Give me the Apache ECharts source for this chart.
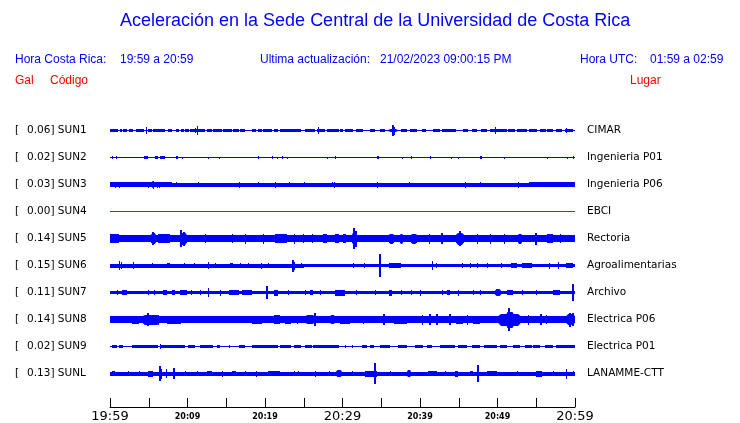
<!DOCTYPE html>
<html>
<head>
<meta charset="utf-8">
<script src="https://cdn.jsdelivr.net/npm/echarts@6/dist/echarts.min.js"></script>
<style>html,body{margin:0;padding:0;background:#fff}#c{width:740px;height:423px}</style>
</head>
<body>
<div id="c"></div>
<script>
// ---------------- DATA ----------------
const codes  = ['SUN1','SUN2','SUN3','SUN4','SUN5','SUN6','SUN7','SUN8','SUN9','SUNL'];
const places = ['CIMAR','Ingenieria P01','Ingenieria P06','EBCI','Rectoria','Agroalimentarias','Archivo','Electrica P06','Electrica P01','LANAMME-CTT'];
const gal    = ['0.06','0.02','0.03','0.00','0.14','0.15','0.11','0.14','0.02','0.13'];
const online = [1,1,1,0,1,1,1,1,1,1];
// time axis: minutes after 19:59
const tickLabels = ['19:59','20:09','20:19','20:29','20:39','20:49','20:59'];
const majorLabels = ['19:59','20:29','20:59'];
const utcRange = ['01:59','02:59'];
const updated = '21/02/2023 09:00:15 PM';

// trace envelopes: [startMin, endMin, halfAmplitude] and spikes: [min, halfAmplitude]
const bands1 = [[0,60,0.6],[0,1.0,1.5],[1.3,1.6,1.5],[1.7,2.2,1.5],[2.5,3.0,1.5],[3.4,4.4,1.5],[4.9,5.4,1.5],[5.5,7.1,1.5],[7.5,8.0,1.5],[8.5,8.9,1.5],[9.1,9.5,1.5],[9.7,10.2,1.5],[10.3,12.2,1.7],[12.5,13.1,1.5],[13.3,14.4,1.5],[14.6,15.7,1.5],[15.9,16.6,1.5],[16.8,17.4,1.5],[18.3,18.9,1.5],[19.1,19.6,1.5],[19.8,20.9,1.5],[21.1,21.7,1.5],[21.9,24.7,1.5],[25.2,26.5,1.5],[26.7,27.7,1.5],[28.0,29.5,1.5],[29.7,30.1,1.5],[30.3,31.4,1.5],[31.8,32.6,1.5],[33.6,34.2,1.5],[34.8,35.5,1.5],[35.9,37.2,1.8],[37.6,38.3,1.5],[38.7,39.6,1.5],[40.2,40.8,1.5],[41.7,42.6,1.5],[42.8,44.7,1.5],[45.6,46.2,1.5],[46.7,47.3,1.5],[47.9,48.6,1.5],[49.0,51.2,1.5],[51.4,52.3,1.5],[52.5,53.8,1.5],[54.0,55.1,1.5],[55.5,56.2,1.5],[56.4,57.2,1.5],[57.6,58.3,1.5],[58.7,59.8,1.6]];
const spikes1 = [[4.7,3.3],[11.0,2.8],[11.2,4.3],[26.9,3.3],[36.5,5.5],[36.7,4],[49.7,3.7],[58.9,2.2]];

const bands2 = [[0,60,0.6],[4.4,4.9,1.3],[5.8,6.2,1.3],[6.5,7.1,1.3],[8.5,8.8,1.3],[34.4,34.75,1.5],[47.7,48.0,1.5]];
const spikes2 = [[0.3,1.5],[0.8,1.3],[9.3,1],[12.6,1],[14,1],[19.1,1.5],[20.9,1.3],[21.5,1],[22.2,1.3],[22.9,1],[28,1],[29,1.3],[37.7,1],[38.9,1.3],[41.3,1.2],[44,1],[44.9,1],[50.9,1],[56.4,1],[59,1],[59.7,1.5]];

const bands3 = [[0,60,2.0],[0,8,2.2],[54,60,2.2],[5.4,5.6,3.2]];
const spikes3 = [[0.6,3],[1.2,3],[2.8,2.5],[4.3,2.5],[4.9,3],[5.5,4],[6.0,3],[6.3,3],[8.5,2.5],[11.4,2.5],[16.7,3],[19.1,2.7],[21.3,3],[23.1,2.7],[25,2.3],[28.6,2.7],[28.9,3],[34.5,3],[38.6,2.7],[45.8,3],[47.8,2.3],[52.6,3]];

const bands4 = [[0,60,0.5]];
const spikes4 = [];

const bands5 = [[0,30,3.8],[30,60,3.2],[0,1.1,4.5],[5.3,5.9,5.5],[6.2,7.7,4.7],[9.0,9.9,6],[21.3,22.8,4.7],[27.5,28,4.8],[29,29.5,4.8],[30,30.5,4.5],[31.2,31.9,6.5],[36,36.6,5],[37.4,37.8,5],[38.9,39.6,5],[44.7,45.7,6],[52.7,53.1,5],[56.4,57.2,4.5]];
const spikes5 = [[5.6,6.7],[9.2,8.8],[9.5,7],[12.3,4.5],[15.7,4.5],[17.4,5],[19.8,5],[23.8,5],[24.9,4.5],[26,4.7],[31.5,10.8],[31.7,8],[41.1,5],[42.9,5.5],[45.2,7.7],[47.4,5],[49,5],[50.8,5],[55,6],[58,4.5]];

const bands6 = [[0,25,2.0],[25,30,1.5],[30,60,1.9],[7.3,7.7,2.7],[15.5,15.9,2.7],[36,37.6,2.6],[51.8,52.5,2.6],[53.1,54.4,2.6],[58.9,59.8,2.7]];
const spikes6 = [[1.2,4.7],[1.4,3.5],[3,3.5],[5.4,2.5],[9.5,2.5],[10.9,2.5],[12.6,3.3],[13.5,2.5],[16.8,2.5],[17.8,2.5],[19.5,3],[20.4,2.5],[23.6,6],[23.8,4],[24.7,2.5],[31.4,2.5],[32.8,2.5],[34.8,11.3],[41.5,4.5],[42,2.5],[45.4,2.5],[46.5,2.5],[47.3,2.5],[48.6,2.5],[50.5,2.5],[56.6,3],[57.8,3.3]];

const bands7 = [[0,60,1.9],[1.5,2.2,2.5],[6.9,7.3,2.8],[8,8.4,2.8],[9,9.9,2.7],[15.3,16.6,2.8],[17,18.3,2.8],[21.1,21.7,3],[25.8,26.2,2.8],[29,30.3,3],[36,36.4,3],[43.5,43.9,2.8],[49.7,50.5,3.5],[51.2,52,2.6],[57.2,58,2.6]];
const spikes7 = [[0.9,2.7],[4.9,2.5],[5.7,2.7],[10.5,2.5],[11.6,2.5],[12.7,4.2],[14.2,3],[20.3,6.3],[23,2.7],[25.2,2.5],[27.1,2.7],[31.8,2.7],[34.2,2.5],[37.6,2.5],[38.9,2.7],[40,3],[42.8,2.7],[44.9,3],[46.9,2.5],[47.7,2.5],[50.1,3.7],[53.1,2.5],[55,2.7],[59.7,8.5]];

const bands8 = [[0,60,3.3],[0,1.1,3.8],[2.8,3.7,4],[4.1,6.5,5],[7.3,9.2,4],[10.1,11,3.8],[13.1,14.8,3.8],[18.3,19.6,4],[21.1,21.9,4.3],[22.6,23.4,4],[25.2,26.5,4.8],[28.4,29,4.8],[29.7,31,4],[36.6,38.3,4],[44.7,45.6,4],[46.9,47.7,4],[50,53,6],[51,52.2,8],[58.9,60,5.5]];
const spikes8 = [[4.9,6.5],[6.2,5],[12.5,3.8],[15.3,3.8],[17,3.8],[24.1,4],[26.4,6.5],[27.3,3.8],[32.7,4],[35.3,5.5],[40.2,5],[41.3,5.5],[42.2,5.5],[43.9,5.5],[46,5],[51.5,11.5],[53.9,5],[55.6,5.8],[56.2,4.5],[59.3,7],[59.8,6.5]];

const bands9 = [[0,60,0.5],[0.3,0.9,1.2],[1.1,1.7,1.2],[2.8,4.1,1.2],[4.1,6.2,1.3],[6.5,9.7,1.3],[10.1,11.0,1.2],[11.6,13.3,1.3],[13.8,14.2,1.2],[15.3,15.5,1.2],[16.6,17.4,1.2],[18.3,21.7,1.3],[21.9,23.4,1.2],[23.7,24.7,1.3],[25.2,26.0,1.2],[26.2,29.5,1.2],[30.3,30.5,1.2],[31.2,31.4,1.2],[32.5,33.1,1.2],[33.5,34.0,1.2],[34.8,36.1,1.2],[37.2,38.3,1.2],[39.4,40.4,1.2],[40.9,41.5,1.2],[42.6,44.5,1.2],[44.9,46.0,1.2],[46.7,47.7,1.2],[48.2,49.9,1.2],[50.3,51.2,1.2],[52.0,52.9,1.2],[53.5,54.4,1.2],[54.6,55.5,1.2],[56.1,57.2,1.2],[57.6,60,1.2]];
const spikes9 = [[6.4,2.3]];

const bandsL = [[0,60,2.0],[0.2,0.6,2.6],[4.9,5.6,3],[12.5,13.1,2.7],[15.7,16.3,2.7],[20.4,21.9,2.6],[29.2,29.9,3.3],[32.9,34.4,3],[38.3,38.9,3.2],[41,42.2,2.7],[44.5,44.9,3],[46.5,46.9,2.7],[48.6,49.9,2.7],[55,55.7,3]];
const spikesL = [[2.3,2.7],[3.7,2.5],[6.4,7.2],[6.6,5],[7.2,4.5],[8.2,5.8],[9.7,2.7],[11.2,2.5],[14.4,3],[17.4,2.7],[18.9,3],[23.7,2.5],[24.3,2.5],[26.5,3],[28.2,2.7],[31.2,2.5],[34.2,10.7],[36.1,2.5],[43.2,2.7],[47.5,8.7],[52.5,2.5],[57.2,2.5],[58.9,5],[59.8,2.5]];

const allBands  = [bands1,bands2,bands3,bands4,bands5,bands6,bands7,bands8,bands9,bandsL];
const allSpikes = [spikes1,spikes2,spikes3,spikes4,spikes5,spikes6,spikes7,spikes8,spikes9,spikesL];

// ---------------- CHART ----------------
const BLUE = '#0000ff', RED = '#ff0000';
const bandData = [], spikeData = [];
allBands.forEach((arr, k) => arr.forEach((b, j) => bandData.push([b[0], b[1], b[2], k, j === 0 ? 0 : arr[0][2]])));
allSpikes.forEach((arr, k) => arr.forEach(s => spikeData.push([s[0], s[1], k])));
const colorOf = k => online[k] ? BLUE : RED;

const chart = echarts.init(document.getElementById('c'), null, {renderer: 'canvas'});
const FF = 'Liberation Sans, Arial, sans-serif';
const hdr = (text, left, top, color) => ({
  text, left, top, padding: 0,
  textStyle: {color, fontSize: 12, fontWeight: 'normal', fontFamily: FF}
});

chart.setOption({
  animation: false,
  backgroundColor: '#fff',
  title: [
    {text: 'Aceleración en la Sede Central de la Universidad de Costa Rica', left: 120, top: 12, padding: 0,
     textStyle: {color: BLUE, fontSize: 18, fontWeight: 'normal', fontFamily: FF}},
    hdr('Hora Costa Rica:', 15, 54, BLUE),
    hdr(tickLabels[0] + ' a ' + tickLabels[6], 120, 54, BLUE),
    hdr('Ultima actualización:', 260, 54, BLUE),
    hdr(updated, 380, 54, BLUE),
    hdr('Hora UTC:', 580, 54, BLUE),
    hdr(utcRange[0] + ' a ' + utcRange[1], 650, 54, BLUE),
    hdr('Gal', 15, 75, RED),
    hdr('Código', 50, 75, RED),
    hdr('Lugar', 630, 75, RED)
  ],
  grid: [
    {left: 110, right: 165, top: 117, height: 270},
    {left: 110, right: 165, top: 400, height: 9}
  ],
  xAxis: [
    {gridIndex: 0, type: 'value', min: 0, max: 60, show: false},
    {gridIndex: 1, type: 'value', min: 0, max: 60, interval: 5,
     axisLine: {show: true, lineStyle: {color: '#000', width: 1}},
     axisTick: {show: true, inside: true, length: 9, lineStyle: {color: '#000', width: 1}},
     splitLine: {show: false},
     axisLabel: {
       margin: 2,
       formatter: v => {
         if (v % 10 !== 0) return '';
         const lab = tickLabels[v / 10];
         return majorLabels.includes(lab) ? '{big|' + lab + '}' : '{small|' + lab + '}';
       },
       rich: {
         big: {fontSize: 13, fontFamily: 'DejaVu Sans', color: '#000', padding: [1, 0, 0, 0]},
         small: {fontSize: 8, fontFamily: 'DejaVu Sans', fontWeight: 'bold', color: '#000', padding: [4, 0, 0, 0]}
       }
     }}
  ],
  yAxis: [
    {gridIndex: 0, type: 'category', data: codes, inverse: true, boundaryGap: true,
     axisLine: {show: false}, axisTick: {show: false}, splitLine: {show: false},
     axisLabel: {
       margin: 95, align: 'left',
       formatter: (v, i) => '{a|[}{b|' + gal[i] + '] ' + codes[i] + '}',
       rich: {
         a: {width: 12, fontSize: 10.5, fontFamily: 'DejaVu Sans', color: '#000'},
         b: {fontSize: 10.5, fontFamily: 'DejaVu Sans', color: '#000'}
       }
     }},
    {gridIndex: 0, type: 'category', data: codes, inverse: true, boundaryGap: true, position: 'right',
     axisLine: {show: false}, axisTick: {show: false}, splitLine: {show: false},
     axisLabel: {margin: 12, align: 'left', fontSize: 10.5, fontFamily: 'DejaVu Sans', color: '#000',
       formatter: (v, i) => places[i]}},
    {gridIndex: 1, type: 'value', show: false, min: 0, max: 1}
  ],
  series: [
    {type: 'custom', xAxisIndex: 0, yAxisIndex: 0, data: bandData, silent: true,
     encode: {x: [0, 1], y: 3},
     renderItem: (params, api) => {
       const k = api.value(3);
       const p0 = api.coord([api.value(0), k]);
       const p1 = api.coord([api.value(1), k]);
       const s = api.size([0, 1])[1] / 27;
       const c = p0[1];
       const h = Math.max(api.value(2) * s, 0.5);
       const hb = api.value(4) * s;
       const x0 = Math.round(p0[0]), x1 = Math.max(Math.round(p1[0]), x0 + 1);
       const top = Math.round(c - h), bot = Math.round(c + h);
       if (hb <= 0 || h - hb < 1.2) {
         return {type: 'rect', shape: {x: x0, y: top, width: x1 - x0, height: bot - top},
                 style: {fill: colorOf(k)}};
       }
       // burst: taper edges from base level to the burst amplitude
       const w = x1 - x0, r = Math.min(w * 0.25, 3);
       const tb = c - hb, bb = c + hb;
       return {type: 'polygon', shape: {points: [
                 [x0, tb], [x0 + r, top], [x1 - r, top], [x1, tb],
                 [x1, bb], [x1 - r, bot], [x0 + r, bot], [x0, bb]]},
               style: {fill: colorOf(k)}};
     }},
    {type: 'custom', xAxisIndex: 0, yAxisIndex: 0, data: spikeData, silent: true,
     encode: {x: 0, y: 2},
     renderItem: (params, api) => {
       const k = api.value(2);
       const p = api.coord([api.value(0), k]);
       const s = api.size([0, 1])[1] / 27;
       const a = api.value(1);
       const h = a * s;
       const w = a > 5 ? 2 : 1;
       return {type: 'rect', shape: {x: Math.round(p[0]) - (w > 1 ? 1 : 0), y: Math.round(p[1] - h),
                 width: w, height: Math.round(p[1] + h) - Math.round(p[1] - h)},
               style: {fill: colorOf(k)}};
     }},
    {type: 'line', xAxisIndex: 1, yAxisIndex: 2, data: [], silent: true}
  ]
});
</script>
</body>
</html>
